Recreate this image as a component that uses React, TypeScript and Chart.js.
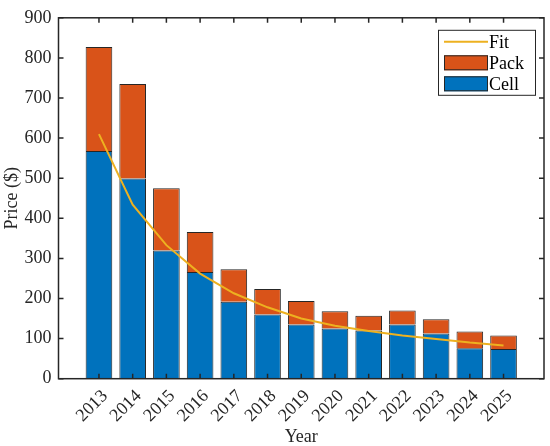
import { useEffect, useRef } from "react";
import { Chart, registerables } from "chart.js";

Chart.register(...registerables);

const years = [2013, 2014, 2015, 2016, 2017, 2018, 2019, 2020, 2021, 2022, 2023, 2024, 2025];
const cellPrice = [568, 499, 320, 266, 192, 160, 135, 125, 120, 135, 113, 76, 74];
const packPrice = [259, 236, 155, 100, 81, 64, 59, 43, 37, 35, 35, 42, 34];
const fitPrice = [610, 434, 333, 262, 213, 178, 150, 132, 119, 108, 99, 90, 83];
const yTicks = [0, 100, 200, 300, 400, 500, 600, 700, 800, 900];

const FONT = "'Liberation Serif', 'Times New Roman', serif";
const FS = 18;
const INK = "#262626";
const CELL = "#0072BD";
const PACK = "#D95319";
const FIT = "#EDB120";

const framePlugin = {
  id: "matlabFrame",
  afterDatasetsDraw(chart: any) {
    const { ctx, chartArea: a, scales } = chart;
    const x = scales.x;
    const y = scales.y;
    ctx.save();
    ctx.strokeStyle = INK;
    ctx.lineWidth = 1.5;
    ctx.beginPath();
    const tl = 5;
    for (const t of x.ticks) {
      const px = x.getPixelForValue(t.value);
      ctx.moveTo(px, a.bottom);
      ctx.lineTo(px, a.bottom - tl);
      ctx.moveTo(px, a.top);
      ctx.lineTo(px, a.top + tl);
    }
    for (const t of y.ticks) {
      const py = y.getPixelForValue(t.value);
      ctx.moveTo(a.left, py);
      ctx.lineTo(a.left + tl, py);
      ctx.moveTo(a.right, py);
      ctx.lineTo(a.right - tl, py);
    }
    ctx.stroke();
    ctx.strokeRect(a.left, a.top, a.right - a.left, a.bottom - a.top);

    // legend
    const bw = 98;
    const bh = 66;
    const bx = a.right - 8 - bw;
    const by = a.top + 12;
    ctx.fillStyle = "#ffffff";
    ctx.fillRect(bx, by, bw, bh);
    ctx.lineWidth = 1;
    ctx.strokeRect(bx + 0.5, by + 0.5, bw - 1, bh - 1);
    const sx = bx + 6;
    const sw = 44;
    const rows = [
      { label: "Fit", cy: by + 12, type: "line", color: FIT },
      { label: "Pack", cy: by + 33, type: "box", color: PACK },
      { label: "Cell", cy: by + 54, type: "box", color: CELL },
    ];
    ctx.font = `${FS}px ${FONT}`;
    ctx.textBaseline = "middle";
    ctx.textAlign = "left";
    for (const r of rows) {
      if (r.type === "line") {
        ctx.strokeStyle = r.color;
        ctx.lineWidth = 2;
        ctx.beginPath();
        ctx.moveTo(sx, r.cy);
        ctx.lineTo(sx + sw, r.cy);
        ctx.stroke();
      } else {
        ctx.fillStyle = r.color;
        ctx.fillRect(sx, r.cy - 7.5, sw, 15);
        ctx.strokeStyle = INK;
        ctx.lineWidth = 1;
        ctx.strokeRect(sx + 0.5, r.cy - 7, sw - 1, 14);
      }
      ctx.fillStyle = "#000000";
      ctx.fillText(r.label, sx + sw + 1, r.cy + 1);
    }
    ctx.restore();
  },
};

export default function App() {
  const canvasRef = useRef<HTMLCanvasElement | null>(null);

  useEffect(() => {
    if (!canvasRef.current) return;
    const chart = new Chart(canvasRef.current, {
      type: "bar",
      data: {
        datasets: [
          {
            type: "line" as any,
            label: "Fit",
            data: years.map((yr, i) => ({ x: yr, y: fitPrice[i] })),
            borderColor: FIT,
            backgroundColor: FIT,
            borderWidth: 2,
            pointRadius: 0,
            tension: 0,
            stack: "fit",
            order: 0,
          } as any,
          {
            label: "Cell",
            data: years.map((yr, i) => ({ x: yr, y: cellPrice[i] })),
            backgroundColor: CELL,
            borderColor: INK,
            borderWidth: 1,
            stack: "bars",
            barPercentage: 0.79,
            categoryPercentage: 1,
            order: 1,
          },
          {
            label: "Pack",
            data: years.map((yr, i) => ({ x: yr, y: packPrice[i] })),
            backgroundColor: PACK,
            borderColor: INK,
            borderWidth: 1,
            stack: "bars",
            barPercentage: 0.79,
            categoryPercentage: 1,
            order: 2,
          },
        ],
      },
      options: {
        responsive: false,
        animation: false,
        layout: { padding: { left: 0, top: 11, right: 6, bottom: 0 } },
        plugins: {
          legend: { display: false },
          tooltip: { enabled: false },
        },
        scales: {
          x: {
            type: "linear",
            stacked: true,
            offset: false,
            min: 2011.8,
            max: 2026.2,
            grid: { display: false, drawTicks: false, offset: false },
            border: { display: false },
            afterBuildTicks: (s: any) => {
              s.ticks = years.map((v) => ({ value: v }));
            },
            afterFit: (s: any) => {
              s.height = 67.3;
            },
            ticks: {
              autoSkip: false,
              minRotation: 45,
              maxRotation: 45,
              padding: 7,
              labelOffset: 6,
              color: INK,
              font: { family: FONT, size: FS },
              callback: (v: any) => String(v),
            },
            title: {
              display: true,
              text: "Year",
              color: INK,
              font: { family: FONT, size: FS, lineHeight: 1 },
              padding: { top: 0, bottom: 0 },
            },
          },
          y: {
            type: "linear",
            stacked: true,
            min: 0,
            max: 900,
            grid: { display: false, drawTicks: false },
            border: { display: false },
            afterBuildTicks: (s: any) => {
              s.ticks = yTicks.map((v) => ({ value: v }));
            },
            afterFit: (s: any) => {
              s.width = 58.5;
            },
            ticks: {
              padding: 7,
              color: INK,
              font: { family: FONT, size: FS },
              callback: (v: any) => String(v),
            },
            title: {
              display: true,
              text: "Price ($)",
              color: INK,
              font: { family: FONT, size: FS, lineHeight: 1 },
              padding: { top: 3, bottom: 0 },
            },
          },
        },
      },
      plugins: [framePlugin],
    });
    return () => chart.destroy();
  }, []);

  return (
    <div style={{ position: "fixed", left: 0, top: 0, width: 550, height: 446, background: "#fff" }}>
      <canvas ref={canvasRef} width={550} height={446} />
    </div>
  );
}
